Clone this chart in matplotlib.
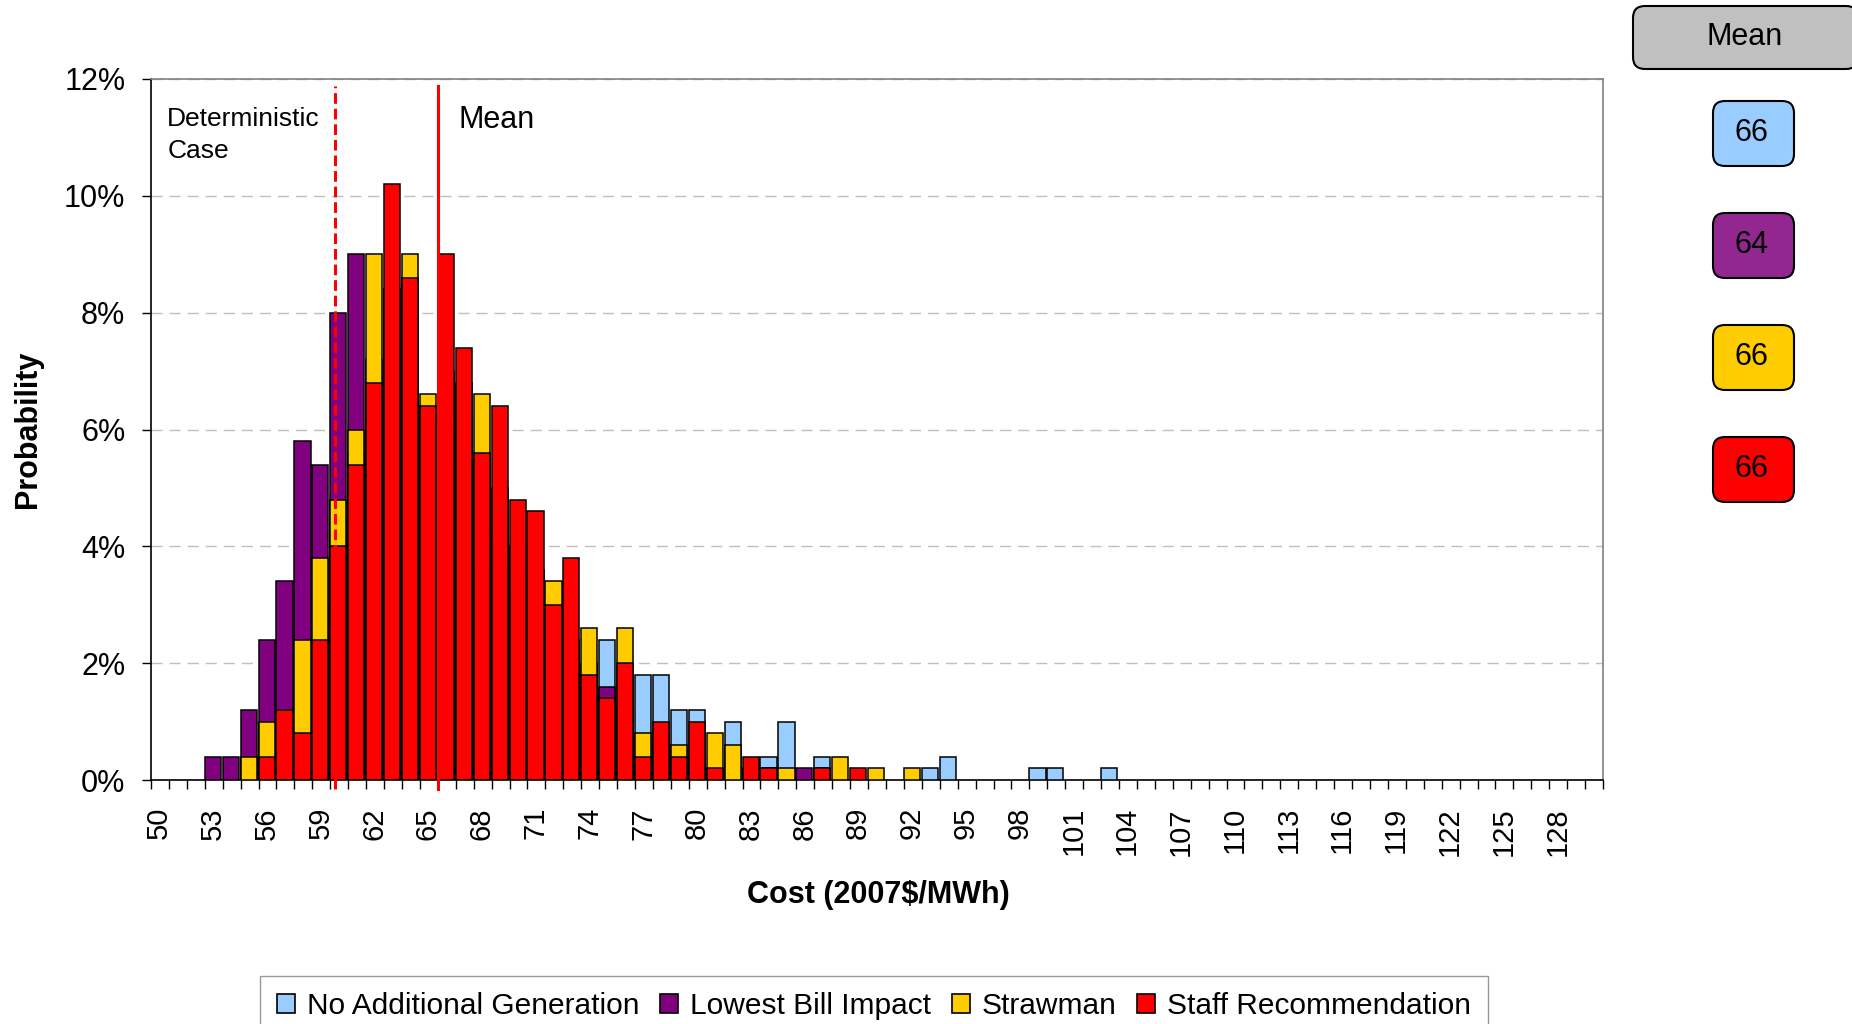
"""Cost distribution histogram: four portfolios overlaid, with mean boxes."""

import matplotlib
matplotlib.use("Agg")
import matplotlib.pyplot as plt
from matplotlib.patches import FancyBboxPatch, Patch
import numpy as np

plt.rcParams["font.family"] = ["Liberation Sans", "DejaVu Sans"]

# ---- data (probability in %, one value per $1/MWh bin starting at 53) ----
first_bin = 53
no_additional = [0, 0, 0.4, 1.0, 1.0, 2.2, 3.0, 4.4, 5.6, 6.6,
                 8.0, 8.6, 6.4, 6.8, 6.8, 5.4, 5.0, 4.0, 3.6, 2.8,
                 2.4, 2.0, 2.4, 1.2, 1.8, 1.8, 1.2, 1.2, 0.2, 1.0,
                 0.2, 0.4, 1.0, 0, 0.4, 0, 0, 0, 0, 0,
                 0.2, 0.4, 0, 0, 0, 0, 0.2, 0.2, 0, 0, 0.2]
lowest_bill = [0.4, 0.4, 1.2, 2.4, 3.4, 5.8, 5.4, 8.0, 9.0, 7.2,
               8.4, 8.4, 6.2, 6.0, 5.4, 3.6, 4.0, 3.2, 2.4, 2.0,
               1.6, 1.2, 1.6, 1.0, 0.4, 0.6, 0, 0.4, 0, 0,
               0, 0.2, 0, 0.2, 0, 0, 0, 0, 0, 0,
               0, 0, 0, 0, 0, 0, 0, 0, 0, 0, 0]
strawman = [0, 0, 0.4, 1.0, 1.0, 2.4, 3.8, 4.8, 6.0, 9.0,
            8.4, 9.0, 6.6, 7.0, 6.2, 6.6, 4.2, 3.6, 3.0, 3.4,
            2.2, 2.6, 1.0, 2.6, 0.8, 0.6, 0.6, 0.4, 0.8, 0.6,
            0.2, 0, 0.2, 0, 0.2, 0.4, 0, 0.2, 0, 0.2,
            0, 0, 0, 0, 0, 0, 0, 0, 0, 0, 0]
staff_rec = [0, 0, 0, 0.4, 1.2, 0.8, 2.4, 4.0, 5.4, 6.8,
             10.2, 8.6, 6.4, 9.0, 7.4, 5.6, 6.4, 4.8, 4.6, 3.0,
             3.8, 1.8, 1.4, 2.0, 0.4, 1.0, 0.4, 1.0, 0.2, 0,
             0.4, 0.2, 0, 0, 0.2, 0, 0.2, 0, 0, 0,
             0, 0, 0, 0, 0, 0, 0, 0, 0, 0, 0]

series_names = ["No Additional Generation", "Lowest Bill Impact",
                "Strawman", "Staff Recommendation"]
series_colors = ["#99CCFF", "#800080", "#FFCC00", "#FF0000"]
box_colors = ["#99CCFF", "#92278F", "#FFCC00", "#FF0000"]
mean_values = [66, 64, 66, 66]

x_min, x_max = 50, 131
tick_label_bins = list(range(50, 129, 3))
mean_cost = 66
deterministic_cost = 60.26

# ---- figure ----
W, H = 1852, 1024
fig = plt.figure(figsize=(W / 100, H / 100), dpi=100)
ax = fig.add_axes([151 / W, 1 - 780 / H, 1452 / W, 701 / H])

bins = np.arange(first_bin, first_bin + len(staff_rec))
for vals, color in zip([no_additional, lowest_bill, strawman, staff_rec], series_colors):
    vals = np.asarray(vals, dtype=float)
    mask = vals > 0
    ax.bar(bins[mask], vals[mask], width=0.9, align="edge", color=color,
           edgecolor="black", linewidth=1.1, zorder=3)

# reference lines
ax.plot([mean_cost, mean_cost], [-0.15, 11.88], color="red", lw=2.2,
        clip_on=False, zorder=6)
ax.plot([deterministic_cost, deterministic_cost], [-0.15, 11.88], color="red",
        lw=2.2, ls=(0, (3.5, 1.6)), clip_on=False, zorder=6)
ax.text(mean_cost + 1.15, 11.3, "Mean", fontsize=22, va="center", ha="left")
ax.text(50.9, 11.52, "Deterministic\nCase", fontsize=19, va="top", ha="left",
        linespacing=1.4)

# axes
ax.set_xlim(x_min, x_max)
ax.set_ylim(0, 12)
ax.set_yticks(np.arange(0, 13, 2))
ax.set_yticklabels([f"{v}%" for v in range(0, 13, 2)])
ax.set_xticks(np.arange(x_min, x_max + 1))
ax.set_xticklabels([])
ax.set_xticks([b + 0.45 for b in tick_label_bins], minor=True)
ax.set_xticklabels([str(b) for b in tick_label_bins], minor=True, rotation=90)
ax.tick_params(axis="y", direction="out", length=6.5, width=1, pad=12,
               labelsize=22)
ax.tick_params(axis="x", which="major", direction="out", length=6.5, width=1)
ax.tick_params(axis="x", which="minor", length=0, pad=19.5, labelsize=21)

ax.set_axisbelow(True)
ax.yaxis.grid(True, color="#BFBFBF", linestyle=(0, (8, 5)), linewidth=1)

for side in ["left", "bottom"]:
    ax.spines[side].set_color("black")
    ax.spines[side].set_linewidth(1.2)
for side in ["top", "right"]:
    ax.spines[side].set_color("#808080")
    ax.spines[side].set_linewidth(1.2)

ax.set_ylabel("Probability", fontsize=22, fontweight="bold", va="center")
ax.yaxis.set_label_coords(-0.0847, 0.5)
ax.set_xlabel("Cost (2007$/MWh)", fontsize=22, fontweight="bold", va="center")
ax.xaxis.set_label_coords(0.501, -0.164)

# legend
handles = [Patch(facecolor=c, edgecolor="black", linewidth=1.2) for c in series_colors]
fig.legend(handles, series_names, loc="upper center",
           bbox_to_anchor=(874 / W, 1 - 976 / H), ncol=4, fontsize=21.5,
           frameon=True, fancybox=False, edgecolor="#808080",
           handlelength=0.6, handleheight=0.6, handletextpad=0.4,
           columnspacing=0.7, borderpad=0.55, borderaxespad=0)

# mean boxes on the right (pixel-space overlay)
ov = fig.add_axes([0, 0, 1, 1], zorder=10)
ov.set_xlim(0, W)
ov.set_ylim(H, 0)
ov.axis("off")
ov.patch.set_alpha(0)

ov.add_patch(FancyBboxPatch((1633, 6), 225, 63,
                            boxstyle="round,pad=0,rounding_size=12",
                            facecolor="#C0C0C0", edgecolor="black", linewidth=1.5))
ov.text(1745, 37, "Mean", fontsize=22, ha="center", va="center")

box_centers_y = [133, 245, 357, 469]
for cy, color, val in zip(box_centers_y, box_colors, mean_values):
    ov.add_patch(FancyBboxPatch((1713, cy - 32), 81, 65,
                                boxstyle="round,pad=0,rounding_size=12",
                                facecolor=color, edgecolor="black", linewidth=1.5))
    ov.text(1751, cy, str(val), fontsize=22, ha="center", va="center")

fig.savefig("out.png", dpi=100)
